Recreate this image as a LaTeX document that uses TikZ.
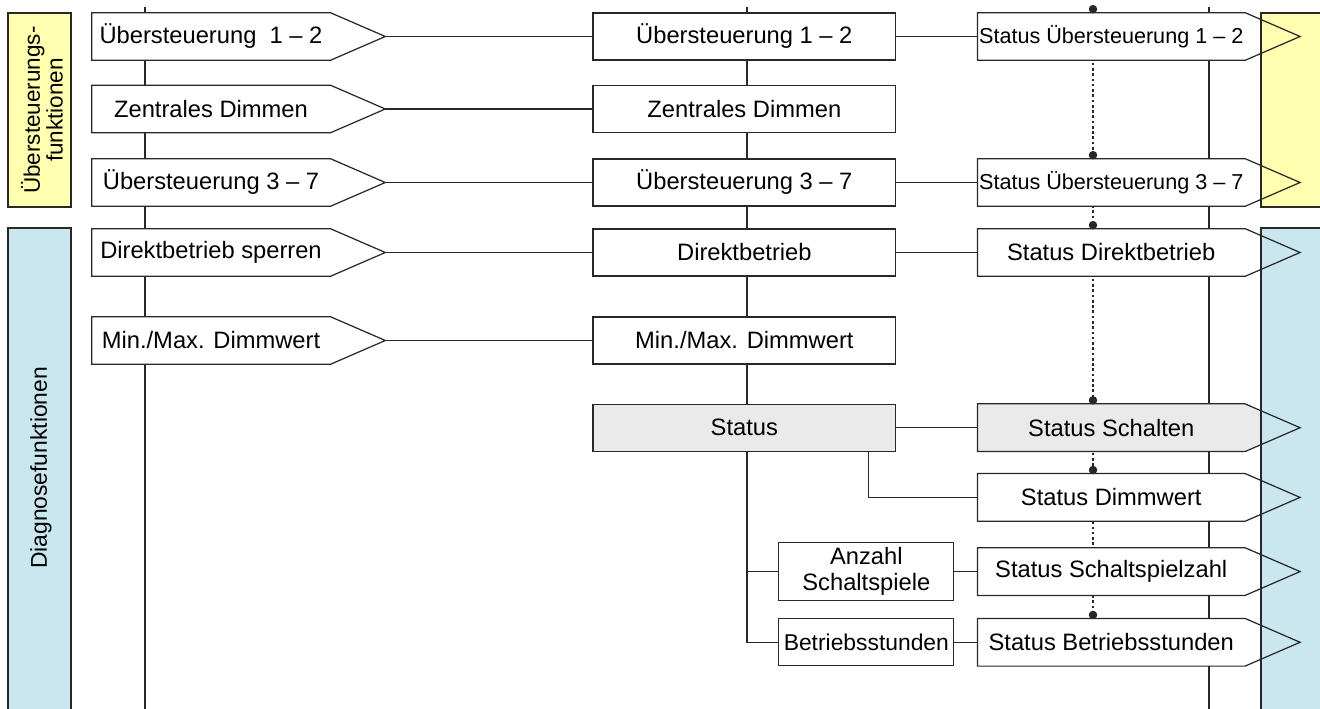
\documentclass[tikz,border=0pt]{standalone}
\usepackage{fontspec}
\setmainfont{Liberation Sans}
\usepackage{xcolor}
\usepackage{tikz}
\usetikzlibrary{positioning}

\pgfdeclarelayer{lines}
\pgfdeclarelayer{tips}
\pgfdeclarelayer{bands}
\pgfsetlayers{lines,tips,bands,main}

\definecolor{bandyellow}{RGB}{255,255,175}
\definecolor{bandblue}{RGB}{202,230,238}
\definecolor{statgray}{RGB}{234,234,234}
\definecolor{linegray}{RGB}{40,40,40}

\begin{document}
\begin{tikzpicture}[x=0.02cm, y=-0.02cm, node distance=1.62cm]

    % Define styles
    \tikzstyle{inbox} = [rectangle, fill=white, minimum width=4.76cm, minimum height=0.94cm, inner sep=0pt, font=\fontsize{13.5}{15}\selectfont]
    \tikzstyle{funcbox} = [rectangle, draw=linegray, line width=0.7pt, fill=white, minimum width=6.06cm, minimum height=0.94cm, inner sep=0pt, font=\fontsize{13.5}{15}\selectfont]
    \tikzstyle{outbox} = [rectangle, fill=white, minimum width=5.34cm, minimum height=0.94cm, inner sep=0pt, font=\fontsize{13.5}{15}\selectfont]
    \tikzstyle{subbox} = [rectangle, draw=linegray, line width=0.7pt, fill=white, minimum width=3.5cm, minimum height=0.94cm, inner sep=0pt, align=center, font=\fontsize{13.5}{15}\selectfont]
    \tikzstyle{outline} = [draw=linegray, line width=0.7pt]
    \tikzstyle{link} = [draw=linegray, line width=0.7pt]
    \tikzstyle{dotline} = [draw=linegray, line width=0.8pt, dash pattern=on 1.5pt off 1.5pt]
    \tikzstyle{band} = [draw=linegray, line width=0.6pt]
    \tikzstyle{bandlabel} = [rotate=90, align=center, inner sep=0pt]

    \useasboundingbox (0,0) rectangle (1320,709);

    % Input objects
    \node [inbox] (in1) at (211,36.5) {Übersteuerung\ \ 1 – 2};
    \node [inbox] (in2) at (211,109) {Zentrales Dimmen};
    \node [inbox] (in3) at (211,182.5) {Übersteuerung 3 – 7};
    \node [inbox] (in4) at (211,252.5) {Direktbetrieb sperren};
    \node [inbox] (in5) at (211,340.5) {Min./Max. Dimmwert};

    % Functions
    \node [funcbox, right=5.24cm of in1] (fn1) {Übersteuerung 1 – 2};
    \node [funcbox, right=5.24cm of in2] (fn2) {Zentrales Dimmen};
    \node [funcbox, right=5.24cm of in3] (fn3) {Übersteuerung 3 – 7};
    \node [funcbox, right=5.24cm of in4] (fn4) {Direktbetrieb};
    \node [funcbox, right=5.24cm of in5] (fn5) {Min./Max. Dimmwert};
    \node [funcbox, fill=statgray, below=0.78cm of fn5] (stat) {Status};

    % Status objects
    \node [outbox, right=of fn1, font=\fontsize{12.3}{14}\selectfont] (sue1) {Status Übersteuerung 1 – 2};
    \node [outbox, right=of fn3, font=\fontsize{12.3}{14}\selectfont] (sue3) {Status Übersteuerung 3 – 7};
    \node [outbox, right=of fn4] (sdir) {Status Direktbetrieb};
    \node [outbox, fill=statgray, right=of stat] (ssch) {Status Schalten};
    \node [outbox, below=0.44cm of ssch] (sdim) {Status Dimmwert};
    \node [outbox, below=0.53cm of sdim] (sspz) {Status Schaltspielzahl};
    \node [outbox, below=0.46cm of sspz] (sbet) {Status Betriebsstunden};

    % Counters
    \node [subbox, minimum height=1.16cm, left=0.46cm of sspz] (anz) {Anzahl\\Schaltspiele};
    \node [subbox, left=0.46cm of sbet, font=\fontsize{13}{15}\selectfont] (betr) {Betriebsstunden};

    % Arrow tips
    \foreach \n in {in1,in2,in3,in4,in5,sue1,sue3,sdir,ssch,sdim,sspz,sbet}
        \coordinate (\n-tip) at ([xshift=1.1cm]\n.east);

    \begin{pgfonlayer}{tips}
    \foreach \n/\c in {in1/white,in2/white,in3/white,in4/white,in5/white,sue1/white,sue3/white,sdir/white,ssch/statgray,sdim/white,sspz/white,sbet/white}
        \fill [\c] (\n.north east) -- (\n-tip) -- (\n.south east) -- cycle;
    \end{pgfonlayer}

    \foreach \n in {in1,in2,in3,in4,in5,sue1,sue3,sdir,ssch,sdim,sspz,sbet}
        \draw [outline] (\n.north west) -- (\n.north east) -- (\n-tip) -- (\n.south east) -- (\n.south west) -- cycle;

    % Bands
    \begin{pgfonlayer}{bands}
    \draw [band, fill=bandyellow] (8,13) rectangle (71,207);
    \draw [band, fill=bandyellow] (1261,13) rectangle (1330,207);
    \draw [band, fill=bandblue] (8,228) rectangle (71,720);
    \draw [band, fill=bandblue] (1261,228) rectangle (1330,720);
    \end{pgfonlayer}
    \node [bandlabel, font=\fontsize{12.8}{11}\selectfont] (ueblbl) at (42,110) {Übersteuerungs-\\funktionen};
    \node [bandlabel, font=\fontsize{13}{15}\selectfont] (diaglbl) at (41,468) {Diagnosefunktionen};

    % Flows
    \coordinate (ltop) at (145,7);
    \coordinate (lbot) at (145,712);
    \coordinate (ctop) at (747,7);
    \coordinate (rtop) at (1209,7);
    \coordinate (rbot) at (1209,712);
    \coordinate (dtop) at (1093,10);

    \begin{pgfonlayer}{lines}
    \draw [link] (ltop) -- (lbot);
    \draw [link] (rtop) -- (rbot);
    \draw [link] (ctop) -- (betr.west -| ctop) -- (betr.west);
    \draw [link] (anz.west -| ctop) -- (anz.west);
    \draw [link] ([xshift=-0.56cm]stat.south east) |- (sdim.west);
    \draw [dotline] (dtop) -- (sbet.north -| dtop);

    \draw [link] (in1-tip) -- (fn1.west);
    \draw [link] (in2-tip) -- (fn2.west);
    \draw [link] (in3-tip) -- (fn3.west);
    \draw [link] (in4-tip) -- (fn4.west);
    \draw [link] (in5-tip) -- (fn5.west);
    \draw [link] (fn1.east) -- (sue1.west);
    \draw [link] (fn3.east) -- (sue3.west);
    \draw [link] (fn4.east) -- (sdir.west);
    \draw [link] (stat.east) -- (ssch.west);
    \draw [link] (anz.east) -- (sspz.west);
    \draw [link] (betr.east) -- (sbet.west);
    \end{pgfonlayer}

    % Dots
    \foreach \n in {sue1,sue3,sdir,ssch,sdim,sbet}
        \fill [linegray] (\n.north -| dtop) ++(0,-3.5) circle (0.085cm);

\end{tikzpicture}
\end{document}
